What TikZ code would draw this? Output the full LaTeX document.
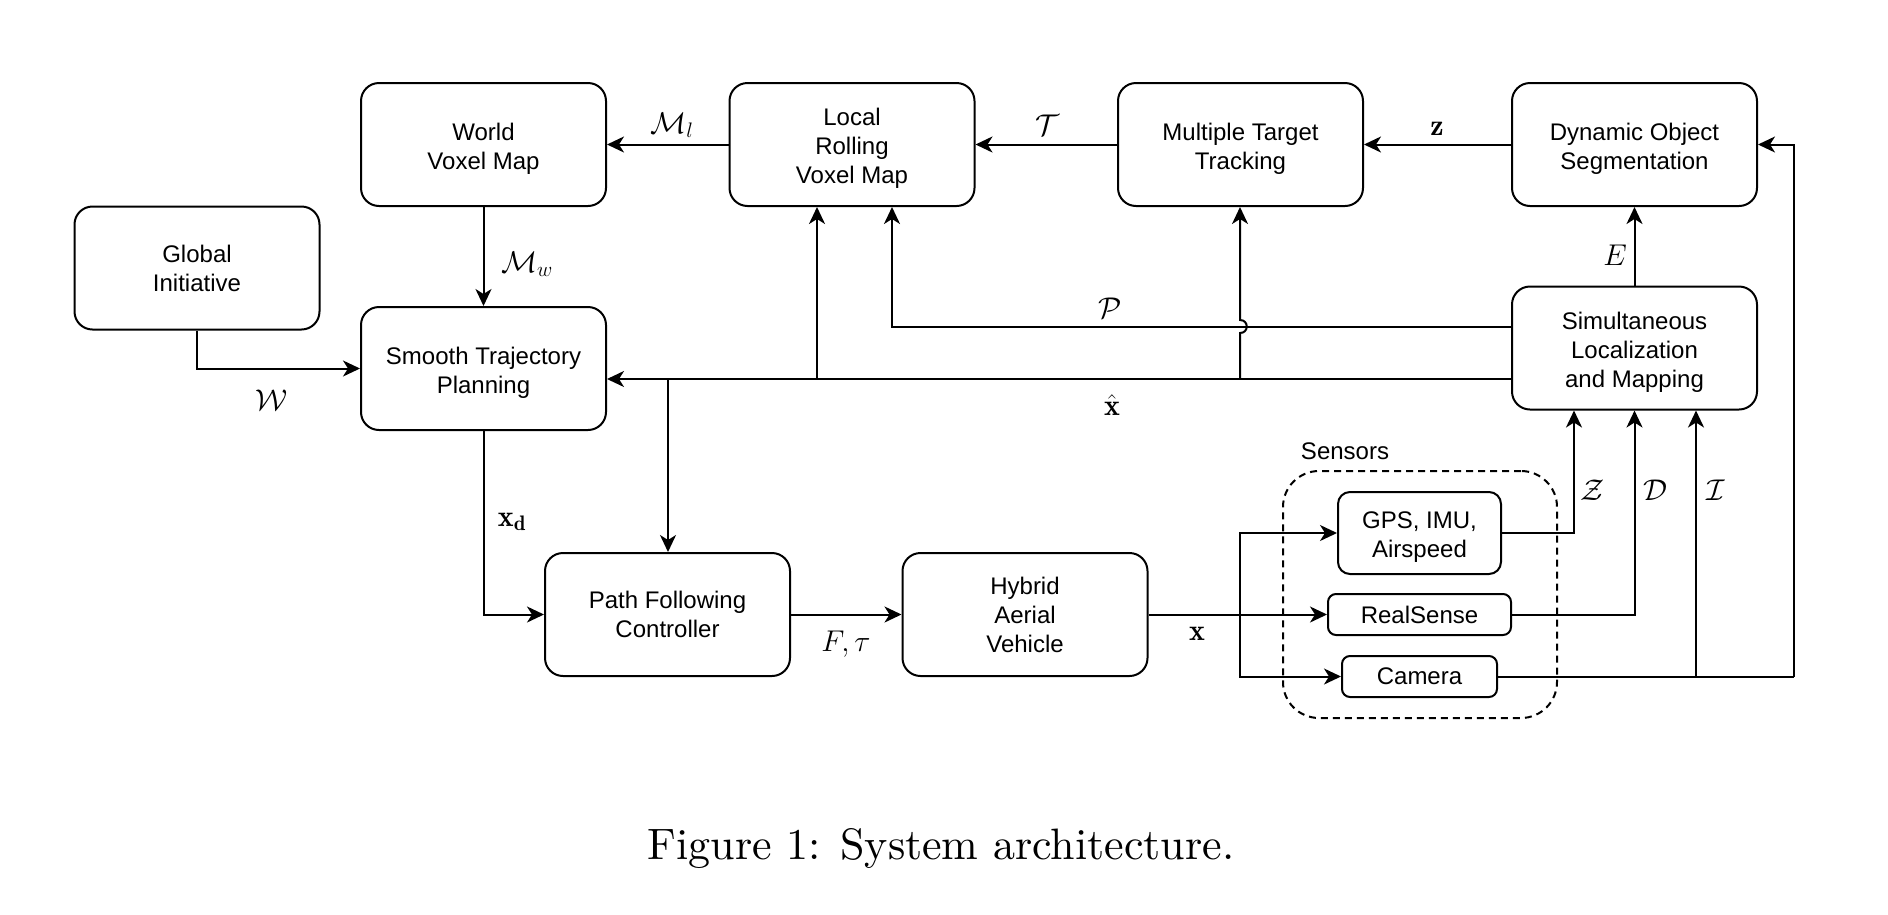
\RequirePackage{fix-cm}
\documentclass[tikz,border=0pt]{standalone}
\usepackage{fontspec}
\newfontfamily\boxfont{Liberation Sans}
\newfontfamily\capfont{lmroman10-regular.otf}
\usetikzlibrary{arrows.meta}
\tikzset{
 blk/.style={draw, line width=2pt, rounded corners=18pt, minimum width=245pt, minimum height=123pt, inner sep=0pt, align=center, font=\boxfont\fontsize{24}{29}\selectfont},
 sbk/.style={blk, rounded corners=12pt},
 arr/.style={-{Stealth[length=17pt,width=16pt,inset=5pt]}, line width=2pt},
 ln/.style={line width=2pt},
 lbl/.style={font=\fontsize{30}{36}\selectfont, inner sep=0pt},
 grp/.style={draw, dashed, dash pattern=on 7pt off 5pt, line width=2pt, rounded corners=36pt, minimum width=274pt, minimum height=247pt, inner sep=0pt},
}
\begin{document}
\begin{tikzpicture}[x=1pt,y=-1pt]
\useasboundingbox (0,0) rectangle (1888,914);
% main blocks
\node[blk] (glob) at (197,268) {Global\\Initiative};
\node[blk] (world) at (483.5,144.5) {\rule{0pt}{25pt}World\\Voxel Map};
\node[blk] (local) at (852,144.5) {\rule{0pt}{25pt}Local\\Rolling\\Voxel Map};
\node[blk] (mtt) at (1240.5,144.5) {\rule{0pt}{25pt}Multiple Target\\Tracking};
\node[blk] (dos) at (1634.5,144.5) {\rule{0pt}{25pt}Dynamic Object\\Segmentation};
\node[blk] (smooth) at (483.5,368.5) {\rule{0pt}{25pt}Smooth Trajectory\\Planning};
\node[blk] (slam) at (1634.5,348) {\rule{0pt}{25pt}Simultaneous\\Localization\\and Mapping};
\node[blk] (pfc) at (667.5,614.5) {Path Following\\Controller};
\node[blk] (hav) at (1025,614.5) {Hybrid\\Aerial\\Vehicle};
% sensors
\node[grp] (sens) at (1420,594.5) {};
\node[font=\boxfont\fontsize{24}{29}\selectfont, inner sep=0pt] (senslbl) at (1345,451) {Sensors};
\node[sbk, minimum width=163pt, minimum height=82pt] (gps) at (1419.5,533) {\rule{0pt}{25pt}GPS, IMU,\\Airspeed};
\node[sbk, rounded corners=8pt, minimum width=183pt, minimum height=41pt] (rs) at (1419.5,614.5) {RealSense};
\node[sbk, rounded corners=8pt, minimum width=155pt, minimum height=41pt] (cam) at (1419.5,676.5) {Camera};
% top row
\draw[arr] (local.west) -- (world.east);
\draw[arr] (mtt.west) -- (local.east);
\draw[arr] (dos.west) -- (mtt.east);
\draw[arr] (slam.north) -- (dos.south);
\draw[arr] (world.south) -- (smooth.north);
\draw[arr] (glob.south) |- (smooth.west);
% state estimate
\coordinate (xhs) at (slam.west |- 0,379);
\coordinate (xhe) at (smooth.east |- 0,379);
\draw[arr] (xhs) -- (xhe);
\draw[arr] (817,379) -- (817,0 |- local.south);
\draw[arr] (668,379) -- (668,0 |- pfc.north);
\draw[arr] (1240,379) -- (1240,333) .. controls (1249,333) and (1249,320) .. (1240,320) -- (1240,0 |- mtt.south);
% P
\coordinate (ps) at (slam.west |- 0,327);
\draw[arr] (ps) -- (892,327) -- (892,0 |- local.south);
% lower chain
\draw[arr] (smooth.south) |- (pfc.west);
\draw[arr] (pfc.east) -- (hav.west);
\draw[arr] (hav.east) -- (rs.west);
\draw[arr] (1240,614.5) |- (gps.west);
\draw[arr] (1240,614.5) |- (cam.west);
% sensors to SLAM
\draw[arr] (gps.east) -| (1574,0 |- slam.south);
\draw[arr] (rs.east) -| (slam.south);
\draw[ln] (cam.east) -- (1794,676.5);
\draw[arr] (1794,676.5) |- (dos.east);
\draw[arr] (1696,676.5) -- (1696,0 |- slam.south);
% labels
\node[lbl] (lMl) at (672,125) {$\mathcal{M}_l$};
\node[lbl] (lT) at (1047,125) {$\mathcal{T}$};
\node[lbl] (lz) at (1437,129) {$\mathbf{z}$};
\node[lbl] (lE) at (1615,255) {$E$};
\node[lbl] (lMw) at (527,264) {$\mathcal{M}_w$};
\node[lbl] (lW) at (272,400) {$\mathcal{W}$};
\node[lbl] (lP) at (1110,308) {$\mathcal{P}$};
\node[lbl] (lxh) at (1112,405) {$\hat{\mathbf{x}}$};
\node[lbl] (lxd) at (512,522) {$\mathbf{x}_{\mathbf{d}}$};
\node[lbl] (lF) at (846,644) {$F,\tau$};
\node[lbl] (lx) at (1197,634) {$\mathbf{x}$};
\node[lbl] (lZ) at (1593,490) {$\mathcal{Z}$};
\node[lbl] (lD) at (1655,490) {$\mathcal{D}$};
\node[lbl] (lI) at (1716,490) {$\mathcal{I}$};
% caption
\node[font=\capfont\fontsize{44}{52}\selectfont, inner sep=0pt] (cap) at (941,849) {Figure 1: System architecture.};
\end{tikzpicture}
\end{document}
